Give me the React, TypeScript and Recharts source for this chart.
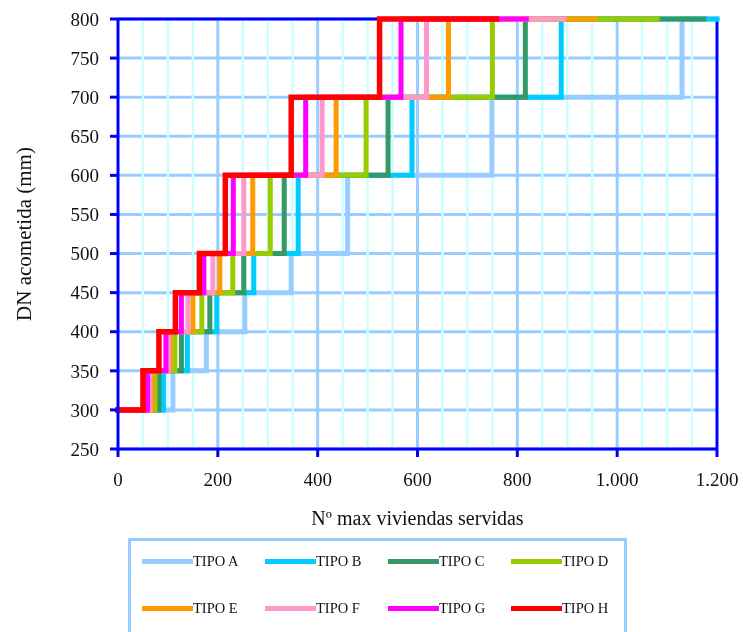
import React from "react";
import { LineChart, Line, XAxis, YAxis, CartesianGrid, ReferenceLine, Label } from "recharts";

// Nominal diameters (mm) of each step
const dnLevels = [300, 350, 400, 450, 500, 600, 700, 800];

// Maximum number of dwellings served by each diameter, per connection type
const tipoA = [110, 177, 254, 347, 460, 749, 1130, 1200];
const tipoB = [91, 139, 198, 272, 361, 589, 888, 1200];
const tipoC = [82, 127, 184, 252, 333, 541, 816, 1174];
const tipoD = [74, 114, 168, 230, 305, 497, 750, 1080];
const tipoE = [69, 105, 150, 204, 270, 437, 662, 956];
const tipoF = [64, 101, 140, 190, 252, 409, 618, 894];
const tipoG = [59, 96, 127, 172, 231, 376, 567, 818];
const tipoH = [50, 82, 115, 163, 215, 347, 524, 758];

const seriesNames = ["TIPO A", "TIPO B", "TIPO C", "TIPO D", "TIPO E", "TIPO F", "TIPO G", "TIPO H"];
const seriesValues = [tipoA, tipoB, tipoC, tipoD, tipoE, tipoF, tipoG, tipoH];
const seriesColors = ["#99CCFF", "#00CCFF", "#339966", "#99CC00", "#FF9900", "#FF99CC", "#FF00FF", "#FF0000"];

// Axis ticks and labels
const xTicks = [0, 200, 400, 600, 800, 1000, 1200];
const xTickLabels = ["0", "200", "400", "600", "800", "1.000", "1.200"];
const yTicks = [250, 300, 350, 400, 450, 500, 550, 600, 650, 700, 750, 800];
const xMajorGrid = [200, 400, 600, 800, 1000];
const xMinorGrid = [50, 100, 150, 250, 300, 350, 450, 500, 550, 650, 700, 750, 850, 900, 950, 1050, 1100, 1150];

// Turn a list of capacities into the corner points of a staircase
function stepPoints(values: number[]) {
  const pts: { x: number; y: number }[] = [{ x: 0, y: dnLevels[0] }];
  values.forEach((v, i) => {
    pts.push({ x: v, y: dnLevels[i] });
    if (i < dnLevels.length - 1) pts.push({ x: v, y: dnLevels[i + 1] });
  });
  return pts;
}

const FONT = '"Liberation Serif", "Times New Roman", serif';
const AXIS_BLUE = "#0000FF";

export default function App() {
  const tickStyle = { fontSize: 19, fill: "#111", fontFamily: FONT };
  return (
    <div
      style={{
        position: "fixed",
        left: 8,
        top: 8,
        width: 735,
        height: 624,
        overflow: "hidden",
        fontFamily: FONT,
      }}
    >
      <LineChart
        width={735}
        height={540}
        margin={{ top: 11, right: 26, bottom: 0, left: 0 }}
        style={{ overflow: "visible" }}
      >
        <CartesianGrid horizontal vertical={false} stroke="#99CCFF" strokeWidth={3} />
        {xMinorGrid.map((v) => (
          <ReferenceLine key={"mi" + v} x={v} stroke="#CCFFFF" strokeWidth={2.5} />
        ))}
        {xMajorGrid.map((v) => (
          <ReferenceLine key={"ma" + v} x={v} stroke="#99CCFF" strokeWidth={3} />
        ))}
        <ReferenceLine x={1200} stroke={AXIS_BLUE} strokeWidth={3} />
        <ReferenceLine y={800} stroke={AXIS_BLUE} strokeWidth={3} />
        <XAxis
          type="number"
          dataKey="x"
          domain={[0, 1200]}
          ticks={xTicks}
          tickFormatter={(v: number) => xTickLabels[xTicks.indexOf(v)]}
          height={99}
          tickSize={8}
          tickMargin={16}
          axisLine={{ stroke: AXIS_BLUE, strokeWidth: 3 }}
          tickLine={{ stroke: AXIS_BLUE, strokeWidth: 3 }}
          tick={tickStyle}
          interval={0}
        >
          <Label value="Nº max viviendas servidas" position="insideBottom" offset={23} style={{ fontSize: 20, fill: "#111", fontFamily: FONT }} />
        </XAxis>
        <YAxis
          type="number"
          domain={[250, 800]}
          ticks={yTicks}
          width={110}
          tickSize={8}
          tickMargin={11}
          axisLine={{ stroke: AXIS_BLUE, strokeWidth: 3 }}
          tickLine={{ stroke: AXIS_BLUE, strokeWidth: 3 }}
          tick={tickStyle}
          interval={0}
        >
          <Label
            value="DN acometida (mm)"
            angle={-90}
            position="insideLeft"
            offset={16}
            style={{ textAnchor: "middle", fontSize: 21, fill: "#111", fontFamily: FONT }}
          />
        </YAxis>
        {seriesValues.map((vals, i) => (
          <Line
            key={seriesNames[i]}
            name={seriesNames[i]}
            data={stepPoints(vals)}
            dataKey="y"
            type="linear"
            stroke={seriesColors[i]}
            strokeWidth={i === 7 ? 5.5 : 5}
            strokeLinecap="square"
            strokeLinejoin="miter"
            dot={false}
            activeDot={false}
            isAnimationActive={false}
          />
        ))}
      </LineChart>
      <div
        style={{
          position: "absolute",
          left: 120,
          top: 530,
          width: 499,
          height: 120,
          border: "3px solid #99CCFF",
          boxSizing: "border-box",
        }}
      >
        {seriesNames.map((name, i) => {
          const col = i % 4;
          const row = Math.floor(i / 4);
          return (
            <div
              key={name}
              style={{
                position: "absolute",
                left: 11 + col * 123,
                top: 20 + row * 47 - 10,
                height: 20,
                display: "flex",
                alignItems: "center",
                fontSize: 14.5,
                color: "#111",
                whiteSpace: "nowrap",
              }}
            >
              <span style={{ display: "inline-block", width: 51, height: 5, background: seriesColors[i] }} />
              <span>{name}</span>
            </div>
          );
        })}
      </div>
    </div>
  );
}
